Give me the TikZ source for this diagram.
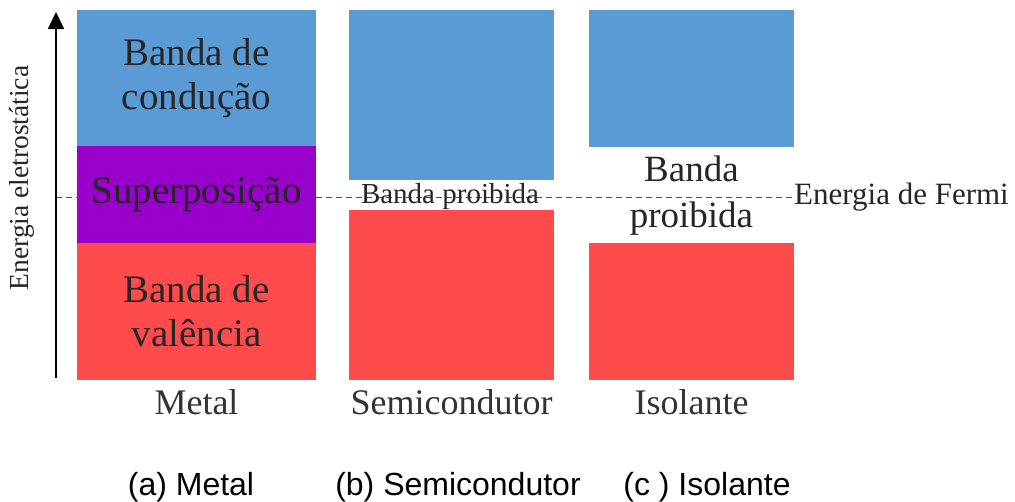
\documentclass[tikz,border=0pt]{standalone}
\usepackage{fontspec}
\setmainfont{Liberation Serif}
\newfontfamily\capfont{Liberation Sans}
\usepackage{tikz}
\usetikzlibrary{arrows.meta}
\usepackage{xcolor}
\definecolor{condblue}{RGB}{91,155,213}
\definecolor{overpurple}{RGB}{153,0,204}
\definecolor{valred}{RGB}{255,75,75}
\definecolor{linegray}{RGB}{80,80,80}

\begin{document}
\begin{tikzpicture}[x=1pt,y=-1pt,
    band/.style={rectangle, inner sep=0pt, outer sep=0pt, align=center, text=black!85,
                 font=\fontsize{39}{44}\selectfont},
    collabel/.style={anchor=base, font=\fontsize{36}{40}\selectfont, text=black!80},
    caption/.style={anchor=base, font=\capfont\fontsize{32}{36}\selectfont}]
          % Variables
          \def \metx  {196.5}
          \def \semx  {451.5}
          \def \isox  {691.5}
          \def \fermy {197}

          \useasboundingbox (0,0) rectangle (1015,501);

          % Fermi level
          \coordinate (fstart) at (56,\fermy);
          \node[anchor=west, inner sep=1pt, font=\fontsize{31}{34}\selectfont, text=black!85] (fermi) at (793,\fermy) {Energia de Fermi};
          \draw[linegray, dashed, dash pattern=on 6pt off 4pt] (fstart) -- (fermi.west);

          % Metal
          \node[band, fill=condblue, minimum width=239, minimum height=136] (metcond) at (\metx,78) {Banda de\\condução};
          \node[band, fill=overpurple, minimum width=239, minimum height=97] (metover) at (\metx,194.5) {Superposição};
          \node[band, fill=valred, minimum width=239, minimum height=137] (metval) at (\metx,311.5) {Banda de\\valência};

          % Semicondutor
          \node[band, fill=condblue, minimum width=205, minimum height=170] (semcond) at (\semx,95) {};
          \node[band, fill=valred, minimum width=205, minimum height=170] (semval) at (\semx,295) {};
          \node[font=\fontsize{29}{32}\selectfont, text=black!85, inner sep=1pt] (semgap) at (450,\fermy) {Banda proibida};

          % Isolante
          \node[band, fill=condblue, minimum width=205, minimum height=137] (isocond) at (\isox,78.5) {};
          \node[band, fill=valred, minimum width=205, minimum height=137] (isoval) at (\isox,311.5) {};
          \node[align=center, font=\fontsize{37}{46}\selectfont, text=black!85] (isogap) at (\isox,196) {Banda\\proibida};

          % Axis
          \coordinate (abot) at (56,378);
          \coordinate (atop) at (56,12);
          \draw[line width=1.8pt, -{Triangle[length=17pt, width=16pt]}] (abot) -- (atop);
          \node[rotate=90, font=\fontsize{27.5}{30}\selectfont, text=black!85] (elabel) at (22,178) {Energia eletrostática};

          % Column labels
          \node[collabel] (metlab) at (\metx,414) {Metal};
          \node[collabel] (semlab) at (\semx,414) {Semicondutor};
          \node[collabel] (isolab) at (\isox,414) {Isolante};

          % Captions
          \node[caption] (capa) at (191,495) {(a) Metal};
          \node[caption] (capb) at (458,495) {(b) Semicondutor};
          \node[caption] (capc) at (707,495) {(c ) Isolante};

        \end{tikzpicture}
\end{document}
